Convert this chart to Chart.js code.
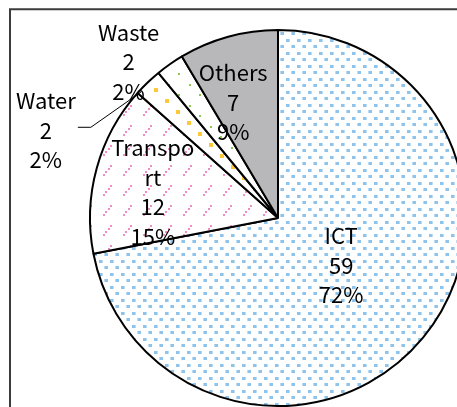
<!DOCTYPE html>
<html>
<head>
<meta charset="utf-8">
<script src="https://cdn.jsdelivr.net/npm/chart.js@4.4.0/dist/chart.umd.min.js"></script>
<style>
  html, body { margin: 0; padding: 0; background: #fff; overflow: hidden; }
  #wrap { position: relative; width: 457px; height: 407px; overflow: hidden; }
  #pie { position: absolute; left: 0; top: 0; }
</style>
</head>
<body>
<div id="wrap"><canvas id="pie" width="480" height="430"></canvas></div>
<script>
// data
const categories = ['ICT', 'Transport', 'Water', 'Waste', 'Others'];
const values = [59, 12, 2, 2, 7];
const labelLines = [['ICT'], ['Transpo', 'rt'], ['Water'], ['Waste'], ['Others']];

// label placement: angle offset (deg) from slice middle, distance as fraction of radius
const labelPos = [
  { dAng: -2.6, dist: 0.42 },
  { dAng: -3.7, dist: 0.68 },
  { dAng: -25.4, dist: 1.32, leader: true },
  { dAng: -8.6, dist: 1.15 },
  { dAng: -5.8, dist: 0.66 }
];

const ctx0 = document.getElementById('pie').getContext('2d');

function makePattern(w, h, draw) {
  const c = document.createElement('canvas');
  c.width = w; c.height = h;
  const g = c.getContext('2d');
  g.fillStyle = '#fff';
  g.fillRect(0, 0, w, h);
  draw(g);
  return ctx0.createPattern(c, 'repeat');
}

// ICT - staggered blue dots
const ictFill = makePattern(11, 13, g => {
  g.fillStyle = '#8EC4EC';
  g.fillRect(0, 0, 3, 3);
  g.fillRect(6, 6, 3, 3);
  g.fillStyle = '#BBDBF3';
  g.fillRect(3, 0, 1, 3);
  g.fillRect(5, 6, 1, 3);
});
// Transport - short pink diagonal dashes
const transFill = makePattern(20, 20, g => {
  g.fillStyle = '#F28CC6';
  g.fillRect(3, 14, 2, 2);
  g.fillRect(5, 11, 2, 2);
  g.fillRect(8, 8, 2, 2);
  g.fillRect(10, 5, 2, 2);
});
// Water - yellow squares
const waterFill = makePattern(22, 22, g => {
  g.fillStyle = '#FFC83A';
  g.fillRect(0, 0, 4, 4);
  g.fillRect(11, 11, 4, 4);
});
// Waste - green dots
const wasteFill = makePattern(21, 21, g => {
  g.fillStyle = '#8DC850';
  g.fillRect(0, 0, 2, 2);
  g.fillRect(10, 10, 2, 2);
});
const fills = [ictFill, transFill, waterFill, wasteFill, '#B8B8BA'];

const total = values.reduce((a, b) => a + b, 0);

// frame around the chart
const frame = {
  id: 'frame',
  beforeDraw(chart) {
    const { ctx } = chart;
    ctx.save();
    ctx.strokeStyle = '#3c3c3c';
    ctx.lineWidth = 2;
    ctx.beginPath();
    ctx.moveTo(10, chart.height);
    ctx.lineTo(10, 9.3);
    ctx.lineTo(chart.width, 9.3);
    ctx.stroke();
    ctx.restore();
  }
};

// slice labels
const sliceLabels = {
  id: 'sliceLabels',
  afterDatasetsDraw(chart) {
    const { ctx } = chart;
    const arcs = chart.getDatasetMeta(0).data;
    ctx.save();
    ctx.font = '22px "Noto Sans CJK JP", "Noto Sans", sans-serif';
    ctx.fillStyle = '#000';
    ctx.textAlign = 'center';
    ctx.textBaseline = 'middle';
    const lh = 29.5;
    arcs.forEach((arc, i) => {
      const p = arc.getProps(['x', 'y', 'startAngle', 'endAngle', 'outerRadius'], true);
      const mid = (p.startAngle + p.endAngle) / 2;
      const a = mid + labelPos[i].dAng * Math.PI / 180;
      const cx = p.x + Math.cos(a) * p.outerRadius * labelPos[i].dist;
      const cy = p.y + Math.sin(a) * p.outerRadius * labelPos[i].dist;
      const pct = Math.round(values[i] / total * 100) + '%';
      const lines = labelLines[i].concat([String(values[i]), pct]);
      const y0 = cy - (lines.length - 1) * lh / 2;
      lines.forEach((t, k) => ctx.fillText(t, cx, y0 + k * lh));
      if (labelPos[i].leader) {
        const ea = mid - 3.5 * Math.PI / 180;
        const ex = p.x + Math.cos(ea) * p.outerRadius * 0.99;
        const ey = p.y + Math.sin(ea) * p.outerRadius * 0.99;
        ctx.strokeStyle = '#000';
        ctx.lineWidth = 1;
        ctx.beginPath();
        ctx.moveTo(cx + 32, cy - 3);
        ctx.lineTo(cx + 45, cy - 3);
        ctx.lineTo(ex, ey);
        ctx.stroke();
      }
    });
    ctx.restore();
  }
};

new Chart(document.getElementById('pie'), {
  type: 'pie',
  data: {
    labels: categories,
    datasets: [{
      data: values,
      backgroundColor: fills,
      borderColor: '#000',
      borderWidth: 2
    }]
  },
  options: {
    responsive: false,
    animation: false,
    events: [],
    layout: { padding: { left: 89, top: 29, right: 13, bottom: 23 } },
    plugins: {
      legend: { display: false },
      tooltip: { enabled: false }
    }
  },
  plugins: [frame, sliceLabels]
});
</script>
</body>
</html>
